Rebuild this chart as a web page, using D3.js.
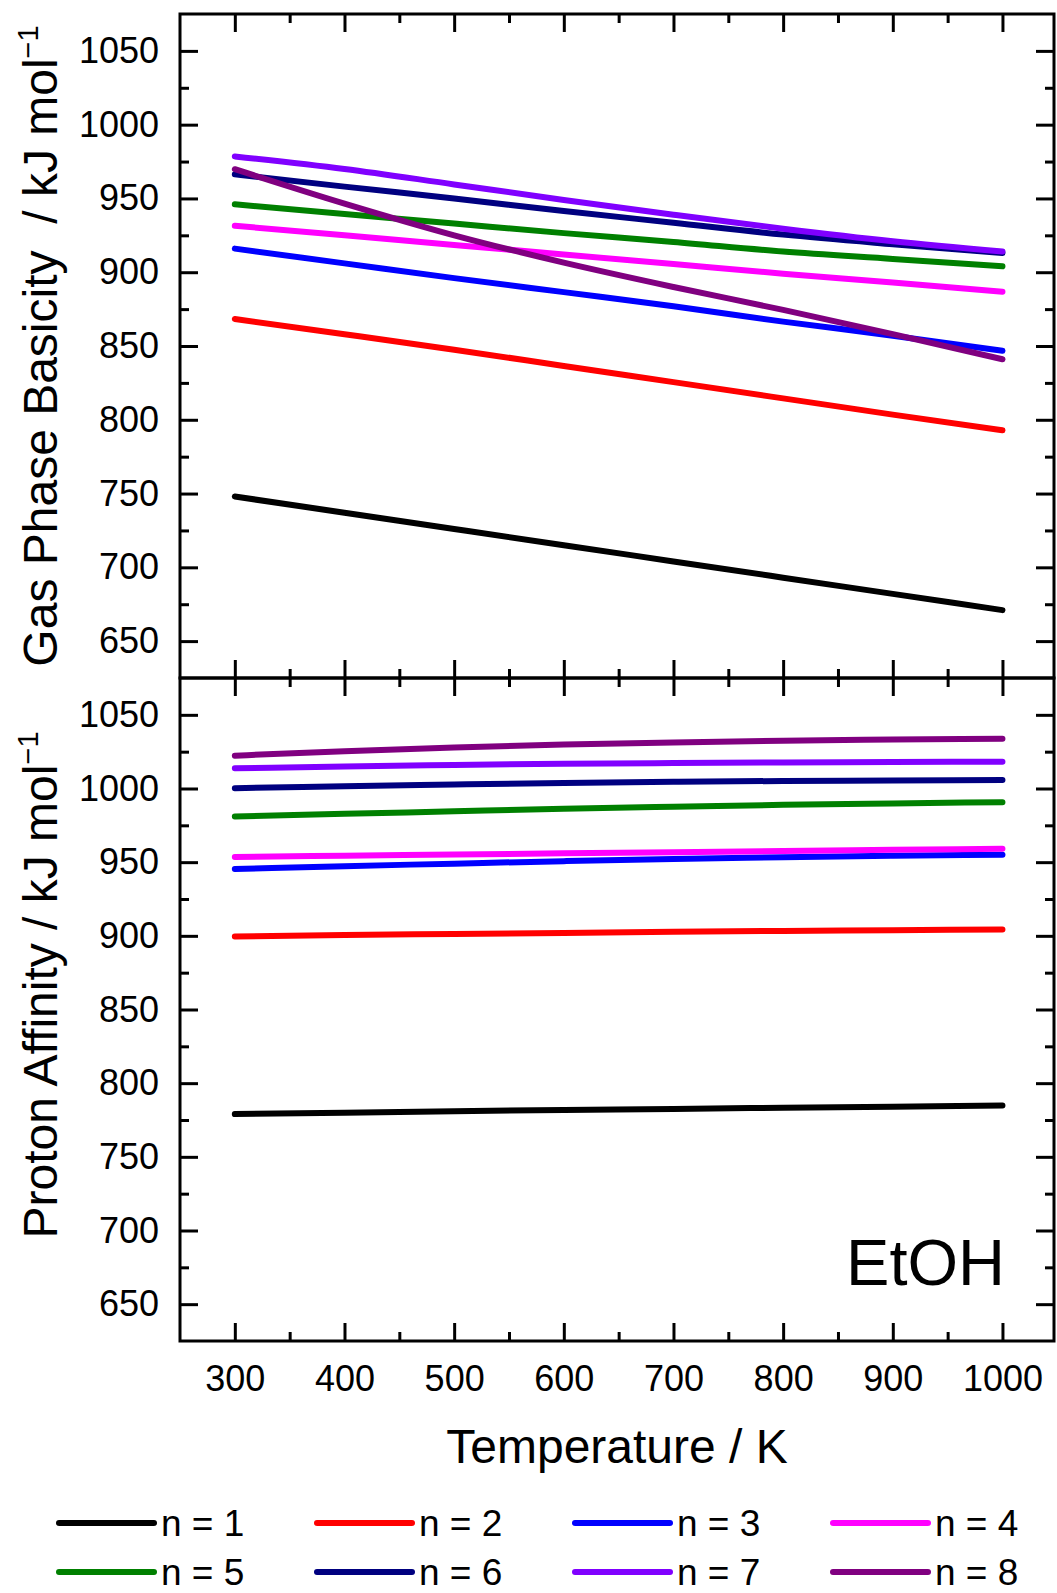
<!DOCTYPE html>
<html>
<head>
<meta charset="utf-8">
<script src="https://cdn.jsdelivr.net/npm/d3@7"></script>
<style>
  body { margin: 0; background: #fff; }
  svg { display: block; font-family: "Liberation Sans", Arial, sans-serif; }
  .tick text { font-family: "Liberation Sans", Arial, sans-serif; }
</style>
</head>
<body>
<svg id="chart" width="1057" height="1593"></svg>
<script>
// temperatures (K)
const temps = [300, 400, 500, 600, 700, 800, 900, 1000];
const names = ["n = 1", "n = 2", "n = 3", "n = 4", "n = 5", "n = 6", "n = 7", "n = 8"];
const colors = ["#000000", "#ff0000", "#0000ff", "#ff00ff", "#008000", "#000080", "#8000ff", "#800080"];

// gas phase basicity / kJ mol-1
const gb1 = [748, 737, 726, 715, 704, 693, 682, 671];
const gb2 = [868.3, 858, 847.5, 836.5, 825.5, 814.5, 803.5, 792.9];
const gb3 = [916, 906, 896, 886.5, 877, 866.5, 857, 846.8];
const gb4 = [931.5, 925, 918.5, 912, 905.5, 899, 893, 886.7];
const gb5 = [946, 939.5, 933, 926.5, 920.5, 914, 909, 904];
const gb6 = [966.4, 958, 950, 941.5, 933.5, 925.5, 919, 913];
const gb7 = [978.5, 970, 959.5, 949, 939, 929.5, 921, 914];
const gb8 = [969.8, 946.5, 925, 906.5, 890, 874.5, 858, 841];

// proton affinity / kJ mol-1
const pa1 = [779, 780, 781, 781.8, 782.5, 783.3, 784, 784.8];
const pa2 = [899.5, 900.5, 901.3, 902, 902.7, 903.3, 903.8, 904.3];
const pa3 = [945.4, 947.3, 949, 950.7, 952.2, 953.3, 954.3, 955.1];
const pa4 = [953.5, 954.4, 955.2, 956, 956.8, 957.6, 958.4, 959.1];
const pa5 = [981, 982.8, 984.5, 986.2, 987.6, 988.9, 989.9, 990.7];
const pa6 = [1000.2, 1001.5, 1002.7, 1003.8, 1004.6, 1005.1, 1005.5, 1005.8];
const pa7 = [1013.7, 1015, 1016, 1016.8, 1017.3, 1017.7, 1018, 1018.2];
const pa8 = [1022.3, 1025.3, 1027.8, 1029.8, 1031.3, 1032.4, 1033.2, 1033.8];

const xMajor = [300, 400, 500, 600, 700, 800, 900, 1000];
const xMinor = [350, 450, 550, 650, 750, 850, 950];
const yMajor = [650, 700, 750, 800, 850, 900, 950, 1000, 1050];
const yMinor = [675, 725, 775, 825, 875, 925, 975, 1025];

const gbSeries = [gb1, gb2, gb3, gb4, gb5, gb6, gb7, gb8];
const paSeries = [pa1, pa2, pa3, pa4, pa5, pa6, pa7, pa8];

const svg = d3.select("#chart");
const L = 180, R = 1054;
const X = d3.scaleLinear().domain([250, 1047]).range([L, R]);
const fmt = d3.format("d");

const panels = [
  {top: 14, bottom: 678, series: gbSeries},
  {top: 678, bottom: 1341, series: paSeries, xlabels: true}
];

const tickStyle = g => {
  g.select(".domain").remove();
  g.selectAll(".tick line").attr("stroke", "#000").attr("stroke-width", 3);
  g.selectAll(".tick text").attr("fill", "#000").attr("font-size", 36);
};

panels.forEach(p => {
  const Y = d3.scaleLinear().domain([625, 1075]).range([p.bottom, p.top]);
  const line = d3.line().x((d, i) => X(temps[i])).y(d => Y(d)).curve(d3.curveMonotoneX);

  const g = svg.append("g");

  // series
  g.selectAll("path.curve").data(p.series).enter().append("path")
    .attr("class", "curve")
    .attr("d", line)
    .attr("fill", "none")
    .attr("stroke", (d, i) => colors[i])
    .attr("stroke-width", 6)
    .attr("stroke-linecap", "round")
    .attr("stroke-linejoin", "round");

  // ticks, all pointing inward
  g.append("g").attr("transform", `translate(${L},0)`)
    .call(d3.axisLeft(Y).tickValues(yMajor).tickSize(-18).tickPadding(21).tickFormat(fmt)).call(tickStyle);
  g.append("g").attr("transform", `translate(${L},0)`)
    .call(d3.axisLeft(Y).tickValues(yMinor).tickSize(-9).tickFormat("")).call(tickStyle);
  g.append("g").attr("transform", `translate(${R},0)`)
    .call(d3.axisRight(Y).tickValues(yMajor).tickSize(-18).tickFormat("")).call(tickStyle);
  g.append("g").attr("transform", `translate(${R},0)`)
    .call(d3.axisRight(Y).tickValues(yMinor).tickSize(-9).tickFormat("")).call(tickStyle);

  const bx = d3.axisBottom(X).tickValues(xMajor).tickSize(-18).tickPadding(24)
    .tickFormat(p.xlabels ? fmt : "");
  g.append("g").attr("transform", `translate(0,${p.bottom})`).call(bx).call(tickStyle);
  g.append("g").attr("transform", `translate(0,${p.bottom})`)
    .call(d3.axisBottom(X).tickValues(xMinor).tickSize(-9).tickFormat("")).call(tickStyle);
  g.append("g").attr("transform", `translate(0,${p.top})`)
    .call(d3.axisTop(X).tickValues(xMajor).tickSize(-18).tickFormat("")).call(tickStyle);
  g.append("g").attr("transform", `translate(0,${p.top})`)
    .call(d3.axisTop(X).tickValues(xMinor).tickSize(-9).tickFormat("")).call(tickStyle);

  g.append("rect")
    .attr("x", L).attr("y", p.top)
    .attr("width", R - L).attr("height", p.bottom - p.top)
    .attr("fill", "none").attr("stroke", "#000").attr("stroke-width", 3);
});

// axis titles
const ytitle = (label, cy) => {
  const t = svg.append("text")
    .attr("transform", `translate(57,${cy}) rotate(-90)`)
    .attr("text-anchor", "middle")
    .attr("font-size", 48)
    .style("white-space", "pre");
  t.append("tspan").text(label);
  t.append("tspan").attr("font-size", 29).attr("dy", -19).text("\u22121");
};
ytitle("Gas Phase Basicity  / kJ mol", 346);
ytitle("Proton Affinity / kJ mol", 985);

svg.append("text")
  .attr("x", (L + R) / 2).attr("y", 1463)
  .attr("text-anchor", "middle")
  .attr("font-size", 48)
  .text("Temperature / K");

svg.append("text")
  .attr("x", 1005).attr("y", 1285)
  .attr("text-anchor", "end")
  .attr("font-size", 65)
  .text("EtOH");

// legend
const legend = svg.append("g");
const item = legend.selectAll("g").data(names).enter().append("g")
  .attr("transform", (d, i) => `translate(${59 + (i % 4) * 258},${i < 4 ? 1523 : 1572})`);
item.append("line")
  .attr("x1", 0).attr("x2", 95)
  .attr("stroke", (d, i) => colors[i])
  .attr("stroke-width", 6)
  .attr("stroke-linecap", "round");
item.append("text")
  .attr("x", 102).attr("y", 13)
  .attr("font-size", 37)
  .text(d => d);
</script>
</body>
</html>
